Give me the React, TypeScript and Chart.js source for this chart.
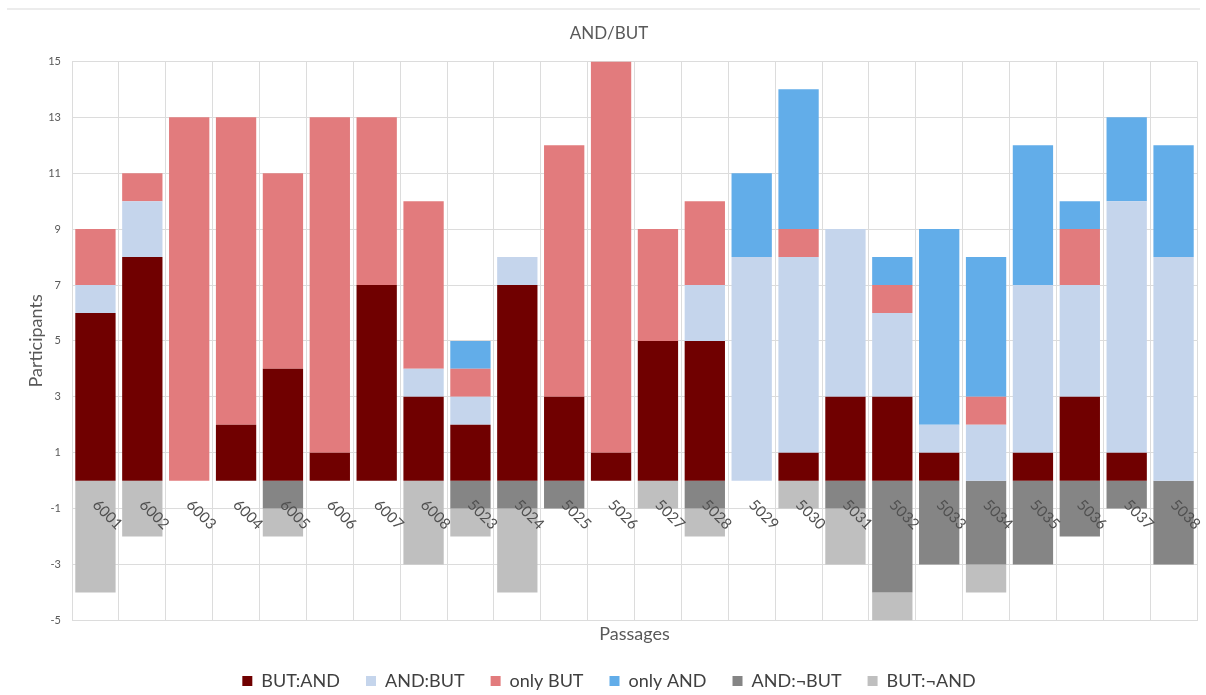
import React, { useEffect, useRef } from "react";
import { Chart, registerables } from "chart.js";

Chart.register(...registerables);

const categories = ["6001", "6002", "6003", "6004", "6005", "6006", "6007", "6008", "5023", "5024", "5025", "5026", "5027", "5028", "5029", "5030", "5031", "5032", "5033", "5034", "5035", "5036", "5037", "5038"];
const butAnd = [6, 8, 0, 2, 4, 1, 7, 3, 2, 7, 3, 1, 5, 5, 0, 1, 3, 3, 1, 0, 1, 3, 1, 0];
const andBut = [1, 2, 0, 0, 0, 0, 0, 1, 1, 1, 0, 0, 0, 2, 8, 7, 6, 3, 1, 2, 6, 4, 9, 8];
const onlyBut = [2, 1, 13, 11, 7, 12, 6, 6, 1, 0, 9, 14, 4, 3, 0, 1, 0, 1, 0, 1, 0, 2, 0, 0];
const onlyAnd = [0, 0, 0, 0, 0, 0, 0, 0, 1, 0, 0, 0, 0, 0, 3, 5, 0, 1, 7, 5, 5, 1, 3, 4];
const andNotBut = [0, 0, 0, 0, -1, 0, 0, 0, -1, -1, -1, 0, 0, -1, 0, 0, -1, -4, -3, -3, -3, -2, -1, -3];
const butNotAnd = [-4, -2, 0, 0, -1, 0, 0, -3, -1, -3, 0, 0, -1, -1, 0, -1, -2, -1, 0, -1, 0, 0, 0, 0];

const seriesNames = ["BUT:AND", "AND:BUT", "only BUT", "only AND", "AND:¬BUT", "BUT:¬AND"];
const seriesColors = ["#700000", "#C5D5EC", "#E27B7D", "#62ADE9", "#858585", "#BFBFBF"];
const seriesValues = [butAnd, andBut, onlyBut, onlyAnd, andNotBut, butNotAnd];

const TEXT = "#595959";
const GRID = "#dcdcdc";

const xLabelPlugin = {
  id: "xLabelsAtZero",
  afterDatasetsDraw(chart: any) {
    const { ctx, scales } = chart;
    const x = scales.x;
    const y = scales.y;
    const zero = y.getPixelForValue(0);
    ctx.save();
    ctx.font = "15px Lato";
    ctx.fillStyle = "#505050";
    ctx.textAlign = "center";
    ctx.textBaseline = "middle";
    categories.forEach((c, i) => {
      const px = x.getPixelForValue(i);
      ctx.save();
      ctx.translate(px + 12, zero + 34);
      ctx.rotate(Math.PI / 4);
      ctx.fillText(c, 0, 0);
      ctx.restore();
    });
    ctx.restore();
  },
};

export default function App() {
  const canvasRef = useRef<HTMLCanvasElement>(null);

  useEffect(() => {
    if (!canvasRef.current) return;
    const chart = new Chart(canvasRef.current, {
      type: "bar",
      data: {
        labels: categories,
        datasets: seriesNames.map((name, i) => ({
          label: name,
          data: seriesValues[i],
          backgroundColor: seriesColors[i],
          borderWidth: 0,
          barPercentage: 0.86,
          categoryPercentage: 1,
        })),
      },
      options: {
        animation: false,
        responsive: true,
        maintainAspectRatio: false,
        layout: { padding: { left: 21, right: 9, top: 14, bottom: 0 } },
        plugins: {
          title: {
            display: true,
            text: "AND/BUT",
            color: TEXT,
            font: { family: "Lato", size: 17, weight: "normal" },
            padding: { top: 9, bottom: 18 },
          },
          legend: {
            position: "bottom",
            labels: {
              boxWidth: 10,
              boxHeight: 10,
              padding: 26,
              color: "#404040",
              font: { family: "Lato", size: 18 },
            },
          },
          tooltip: { enabled: false },
        },
        scales: {
          x: {
            stacked: true,
            grid: { color: GRID, offset: true, drawTicks: false },
            border: { color: GRID },
            ticks: { display: false },
            title: {
              display: true,
              text: "Passages",
              color: TEXT,
              font: { family: "Lato", size: 18 },
              padding: { top: 3, bottom: 1 },
            },
          },
          y: {
            stacked: true,
            min: -5,
            max: 15,
            grid: { color: GRID, drawTicks: false },
            border: { color: GRID },
            ticks: {
              stepSize: 2,
              padding: 11,
              color: TEXT,
              font: { family: "Lato", size: 11 },
            },
            title: {
              display: true,
              text: "Participants",
              color: TEXT,
              font: { family: "Lato", size: 18 },
            },
            afterFit: (s: any) => {
              s.width = 51;
            },
          },
        },
      } as any,
      plugins: [xLabelPlugin],
    });
    return () => chart.destroy();
  }, []);

  return (
    <div style={{ position: "absolute", left: 0, top: 0, width: 1206, height: 695, overflow: "hidden", background: "#fff" }}>
      <div style={{ position: "absolute", left: 7, top: 8, width: 1193, height: 2, background: "#ececec" }} />
      <div style={{ position: "absolute", left: 0, top: 0, width: 1206, height: 700 }}>
        <canvas ref={canvasRef} />
      </div>
    </div>
  );
}
